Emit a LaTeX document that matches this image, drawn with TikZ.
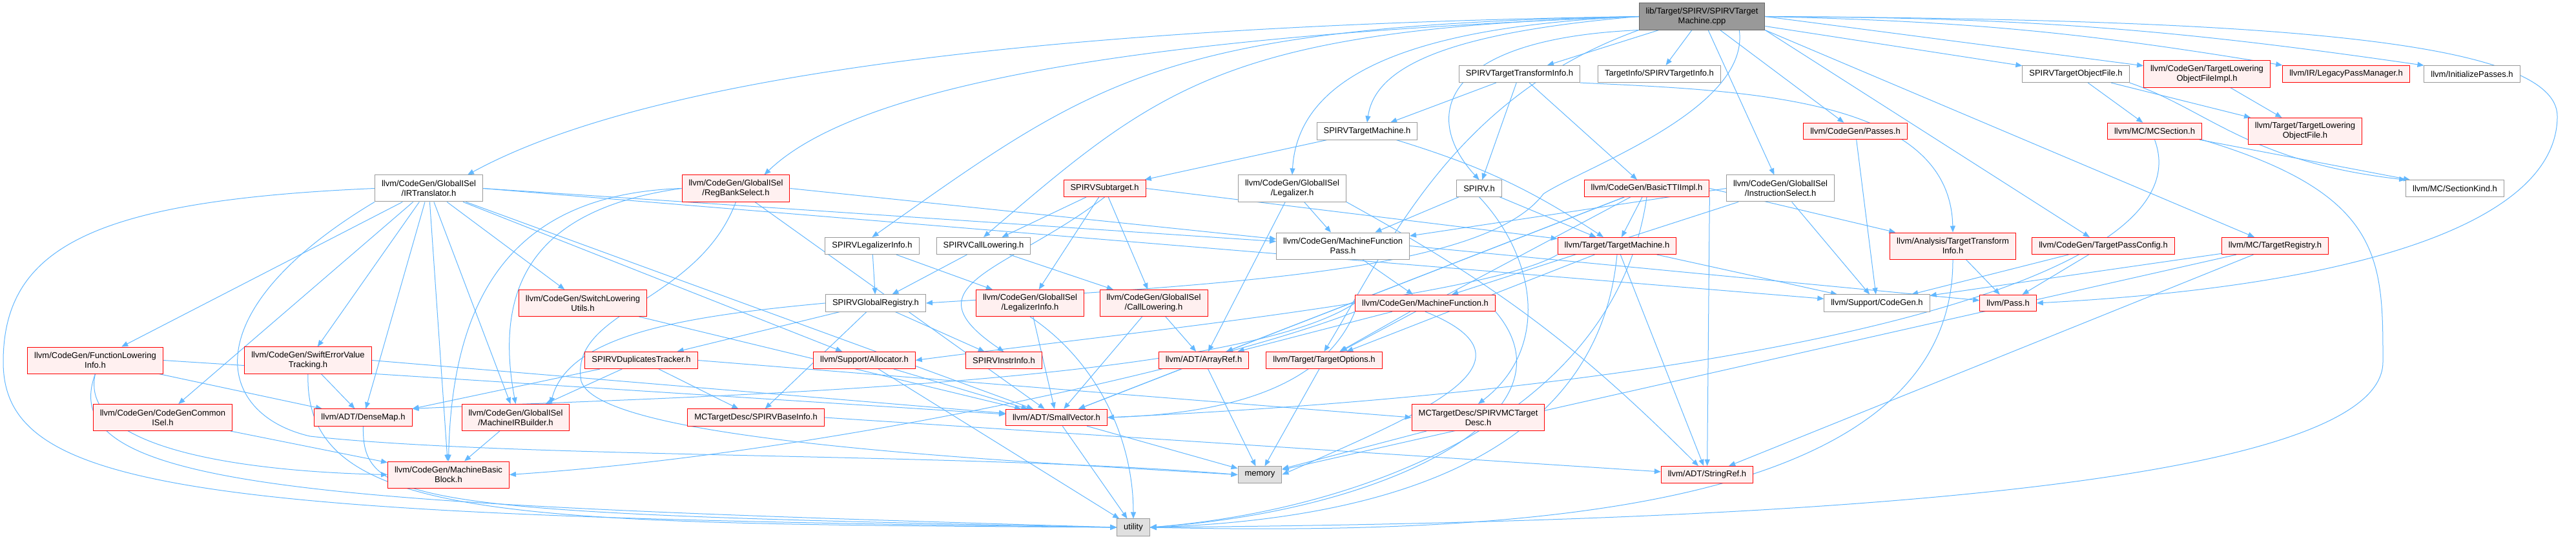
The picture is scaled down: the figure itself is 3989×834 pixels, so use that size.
\documentclass[tikz,border=0pt]{standalone}
\usepackage{fontspec}
\setmainfont{Liberation Sans}
\usepackage{tikz}
\usetikzlibrary{positioning,arrows.meta,backgrounds}
\definecolor{edgeblue}{HTML}{63B8FF}
\definecolor{redbg}{HTML}{FFF0F0}
\definecolor{rootbg}{HTML}{999999}
\definecolor{rootline}{HTML}{666666}
\definecolor{sysbg}{HTML}{E0E0E0}
\definecolor{greyline}{HTML}{999999}

\tikzset{
  hdr/.style={draw=greyline, fill=white, line width=1pt, inner xsep=10.5pt, inner ysep=7pt,
    minimum height=25.5pt, align=center, font=\fontsize{13}{15}\selectfont},
  hdrred/.style={hdr, draw=red, fill=redbg},
  hdrsys/.style={hdr, fill=sysbg},
  hdrroot/.style={hdr, draw=rootline, fill=rootbg},
  dbl/.style={minimum height=41pt},
  incl/.style={draw=edgeblue, line width=1pt, -{Triangle[length=10pt,width=8pt]}}
}

\begin{document}
\begin{tikzpicture}[x=1pt, y=1pt]
  \useasboundingbox (0,0) rectangle (3989,-834);

  % source file
  \node[hdrroot,dbl] (root) at (2635.5,-25.5) {lib/Target/SPIRV/SPIRVTarget\\Machine.cpp};

  % row 1
  \node[hdr] (stti) at (2353,-114.5) {SPIRVTargetTransformInfo.h};
  \node[hdr] (tinfo) at (2569.5,-114.5) {TargetInfo/SPIRVTargetInfo.h};
  \node[hdr] (stof) at (3214.5,-114.5) {SPIRVTargetObjectFile.h};
  \node[hdrred,dbl] (tlofimpl) at (3417.5,-114.5) {llvm/CodeGen/TargetLowering\\ObjectFileImpl.h};
  \node[hdrred] (lpm) at (3633,-114.5) {llvm/IR/LegacyPassManager.h};
  \node[hdr] (initp) at (3828,-114.5) {llvm/InitializePasses.h};

  % row 2
  \node[hdr] (stm) at (2117,-203) {SPIRVTargetMachine.h};
  \node[hdrred] (passes) at (2873,-203) {llvm/CodeGen/Passes.h};
  \node[hdrred] (mcsec) at (3336.5,-203) {llvm/MC/MCSection.h};
  \node[hdrred,dbl] (tlof) at (3569.5,-203) {llvm/Target/TargetLowering\\ObjectFile.h};

  % row 3
  \node[hdr,dbl] (irt) at (664,-291.5) {llvm/CodeGen/GlobalISel\\/IRTranslator.h};
  \node[hdrred,dbl] (rbs) at (1139.5,-291.5) {llvm/CodeGen/GlobalISel\\/RegBankSelect.h};
  \node[hdrred] (subt) at (1710.5,-291.5) {SPIRVSubtarget.h};
  \node[hdr,dbl] (lgz) at (2001,-291.5) {llvm/CodeGen/GlobalISel\\/Legalizer.h};
  \node[hdr] (spirv) at (2290.5,-291.5) {SPIRV.h};
  \node[hdrred] (bttii) at (2550,-291.5) {llvm/CodeGen/BasicTTIImpl.h};
  \node[hdr,dbl] (isel) at (2757,-291.5) {llvm/CodeGen/GlobalISel\\/InstructionSelect.h};
  \node[hdr] (sk) at (3801.5,-291.5) {llvm/MC/SectionKind.h};

  % row 4
  \node[hdr] (sli) at (1350.5,-380.5) {SPIRVLegalizerInfo.h};
  \node[hdr] (scl) at (1523,-380.5) {SPIRVCallLowering.h};
  \node[hdr,dbl] (mfp) at (2079.5,-380.5) {llvm/CodeGen/MachineFunction\\Pass.h};
  \node[hdrred] (tm) at (2504,-380.5) {llvm/Target/TargetMachine.h};
  \node[hdrred,dbl] (atti) at (3024,-380.5) {llvm/Analysis/TargetTransform\\Info.h};
  \node[hdrred] (tpc) at (3257,-380.5) {llvm/CodeGen/TargetPassConfig.h};
  \node[hdrred] (treg) at (3523,-380.5) {llvm/MC/TargetRegistry.h};

  % row 5
  \node[hdrred,dbl] (slu) at (902.5,-469) {llvm/CodeGen/SwitchLowering\\Utils.h};
  \node[hdr] (sgr) at (1356,-469) {SPIRVGlobalRegistry.h};
  \node[hdrred,dbl] (gli) at (1595,-469) {llvm/CodeGen/GlobalISel\\/LegalizerInfo.h};
  \node[hdrred,dbl] (gcl) at (1786.5,-469) {llvm/CodeGen/GlobalISel\\/CallLowering.h};
  \node[hdrred] (mf) at (2207,-469) {llvm/CodeGen/MachineFunction.h};
  \node[hdr] (scg) at (2906.5,-469) {llvm/Support/CodeGen.h};
  \node[hdrred] (pass) at (3109.5,-469) {llvm/Pass.h};

  % row 6
  \node[hdrred,dbl] (fli) at (147.5,-557.5) {llvm/CodeGen/FunctionLowering\\Info.h};
  \node[hdrred,dbl] (swe) at (477,-557.5) {llvm/CodeGen/SwiftErrorValue\\Tracking.h};
  \node[hdrred] (sdt) at (993,-557.5) {SPIRVDuplicatesTracker.h};
  \node[hdrred] (alloc) at (1338.5,-557.5) {llvm/Support/Allocator.h};
  \node[hdrred] (sii) at (1554.5,-557.5) {SPIRVInstrInfo.h};
  \node[hdrred] (aref) at (1864,-557.5) {llvm/ADT/ArrayRef.h};
  \node[hdrred] (topt) at (2050.5,-557.5) {llvm/Target/TargetOptions.h};

  % row 7
  \node[hdrred,dbl] (ccis) at (252,-646) {llvm/CodeGen/CodeGenCommon\\ISel.h};
  \node[hdrred] (dmap) at (562.5,-646) {llvm/ADT/DenseMap.h};
  \node[hdrred,dbl] (mirb) at (798.5,-646) {llvm/CodeGen/GlobalISel\\/MachineIRBuilder.h};
  \node[hdrred] (sbi) at (1170.5,-646) {MCTargetDesc/SPIRVBaseInfo.h};
  \node[hdrred] (svec) at (1636,-646) {llvm/ADT/SmallVector.h};
  \node[hdrred,dbl] (smcd) at (2289,-646) {MCTargetDesc/SPIRVMCTarget\\Desc.h};

  % row 8 and 9
  \node[hdrred,dbl] (mbb) at (694.5,-734.5) {llvm/CodeGen/MachineBasic\\Block.h};
  \node[hdrsys] (mem) at (1951,-734.5) {memory};
  \node[hdrred] (sref) at (2643.5,-734.5) {llvm/ADT/StringRef.h};
  \node[hdrsys] (util) at (1755,-816) {utility};

  \begin{scope}[on background layer]
  \fill[white] (0,0) rectangle (3989,-834);

  % includes of the source file
  \draw[incl] (root.west) .. controls (1600,-40) and (1000,-120) .. ([xshift=-24pt]irt.north east);
  \draw[incl] (root.west) .. controls (1900,-50) and (1350,-110) .. ([xshift=-40pt]rbs.north east);
  \draw[incl] (root.west) .. controls (1800,-40) and (1700,-120) .. (sli.north);
  \draw[incl] (root.west) .. controls (1900,-45) and (1800,-130) .. (scl.north);
  \draw[incl] (root.west) .. controls (2200,-40) and (2010,-110) .. (lgz.north);
  \draw[incl] (root.west) .. controls (2250,-50) and (2130,-100) .. (stm.north);
  \draw[incl] (root.south west) .. controls (2230,-60) and (2200,-180) .. (spirv.north);
  \draw[incl] (root.south west) .. controls (2250,-150) and (2150,-380) .. (topt.north);
  \draw[incl] (root) -- (stti);
  \draw[incl] (root) -- (tinfo);
  \draw[incl] (root) -- (isel);
  \draw[incl] (root) -- (passes);
  \draw[incl] (root) -- (stof);
  \draw[incl] (root.east) -- (tlofimpl);
  \draw[incl] (root.east) to[bend left=4] (lpm.north west);
  \draw[incl] (root.east) to[bend left=4] (initp.north west);
  \draw[incl] (root.south east) -- (tpc);
  \draw[incl] (root.south east) -- (treg);
  \draw[incl] ([xshift=-40pt]root.south east) .. controls (2710,-170) and (2450,-260) .. (2390,-300)
    .. controls (2300,-420) and (1900,-440) .. (sgr.east);
  \draw[incl] (root.east) .. controls (3500,-30) and (3960,-60) .. (3960,-180)
    .. controls (3960,-330) and (3700,-440) .. (pass.east);

  % SPIRV headers
  \draw[incl] (stti) -- (stm);
  \draw[incl] (stti) -- (spirv);
  \draw[incl] (stti) -- (bttii);
  \draw[incl] (stti.south east) .. controls (2700,-140) and (3020,-150) .. (atti.north);
  \draw[incl] (stm) -- (subt);
  \draw[incl] (stm) to[bend left=8] (tm);
  \draw[incl] (subt) -- (scl);
  \draw[incl] (subt.south) .. controls (1560,-420) and (1400,-440) .. (sii.north);
  \draw[incl] (subt) -- (gli);
  \draw[incl] (subt) -- (gcl);
  \draw[incl] (subt.east) -- (tm);
  \draw[incl] (spirv) -- (mfp);
  \draw[incl] (spirv) -- (tm);
  \draw[incl] (spirv.south) .. controls (2380,-400) and (2400,-540) .. (smcd.north);
  \draw[incl] (sli) -- (sgr);
  \draw[incl] (sli) -- (gli);
  \draw[incl] (scl) -- (sgr);
  \draw[incl] (scl) -- (gcl);
  \draw[incl] (sgr.west) .. controls (1050,-490) and (880,-520) .. ([xshift=-30pt]mirb.north east);
  \draw[incl] (sgr) -- (sdt);
  \draw[incl] (sgr) -- (sbi);
  \draw[incl] (sgr) -- (sii);
  \draw[incl] (sdt) -- (sbi);
  \draw[incl] (sdt) -- (mirb);
  \draw[incl] (sdt) -- (dmap.north east);
  \draw[incl] (sdt.east) -- (smcd.west);
  \draw[incl] (sbi.east) -- (sref);
  \draw[incl] (smcd) -- (mem);

  % GlobalISel and CodeGen headers
  \draw[incl] (irt) -- (fli);
  \draw[incl] (irt) -- (ccis);
  \draw[incl] (irt) -- (swe);
  \draw[incl] (irt) -- (dmap);
  \draw[incl] (irt) -- (mbb);
  \draw[incl] (irt) -- (mirb);
  \draw[incl] (irt) -- (slu);
  \draw[incl] (irt) -- (alloc);
  \draw[incl] (irt) -- (svec);
  \draw[incl] (irt.east) -- (mfp);
  \draw[incl] (irt.east) -- (scg);
  \draw[incl] (irt.south west) .. controls (300,-480) and (330,-640) .. (480,-675)
    .. controls (800,-710) and (1500,-700) .. (mem.west);
  \draw[incl] (irt.west) .. controls (150,-310) and (5,-380) .. (5,-560)
    .. controls (5,-760) and (300,-800) .. (util.west);
  \draw[incl] (rbs.west) .. controls (850,-320) and (760,-420) .. (mirb.north);
  \draw[incl] (rbs.west) .. controls (800,-300) and (700,-450) .. (mbb.north);
  \draw[incl] (rbs.east) -- (mfp);
  \draw[incl] (rbs) -- (svec);
  \draw[incl] (rbs.south) .. controls (1080,-470) and (880,-480) .. (900,-590)
    .. controls (930,-680) and (1500,-710) .. (mem.west);
  \draw[incl] (lgz) -- (mfp);
  \draw[incl] (lgz) -- (aref);
  \draw[incl] (lgz.south east) to[bend left=8] (sref);
  \draw[incl] (isel.west) -- (mfp);
  \draw[incl] (isel) -- (mf);
  \draw[incl] (isel) -- (scg);
  \draw[incl] (bttii) -- (tm);
  \draw[incl] (bttii.east) -- (atti);
  \draw[incl] (bttii) -- (aref);
  \draw[incl] (bttii) -- (svec);
  \draw[incl] (bttii) -- (topt);
  \draw[incl] (bttii.south east) -- (sref);
  \draw[incl] (bttii.south) .. controls (2500,-650) and (2100,-790) .. (util.east);
  \draw[incl] (mfp) -- (mf);
  \draw[incl] (mfp.east) -- (pass);
  \draw[incl] (mf) -- (aref);
  \draw[incl] (mf) -- (topt);
  \draw[incl] (mf.west) .. controls (1900,-600) and (1000,-615) .. (dmap.north east);
  \draw[incl] (mf.south west) .. controls (2050,-600) and (1900,-640) .. (svec.east);
  \draw[incl] (mf.south west) .. controls (1900,-560) and (1300,-700) .. (mbb.east);
  \draw[incl] (mf.south) .. controls (2400,-560) and (2200,-640) .. (mem.east);
  \draw[incl] (mf.south east) .. controls (2450,-640) and (2150,-790) .. (util.east);
  \draw[incl] (tm) -- (sref);
  \draw[incl] (tm.south west) .. controls (2300,-460) and (1700,-520) .. (alloc.east);
  \draw[incl] (tm) -- (scg);
  \draw[incl] (tm) -- (topt);
  \draw[incl] (tm.south) .. controls (2480,-650) and (2250,-800) .. (util.east);
  \draw[incl] (atti) -- (pass);
  \draw[incl] (atti.south) .. controls (3025,-780) and (2400,-830) .. (util.east);
  \draw[incl] (tpc) -- (pass);
  \draw[incl] (tpc) -- (scg);
  \draw[incl] (treg) -- (scg);
  \draw[incl] (treg) -- (sref);
  \draw[incl] (treg) -- (mem);
  \draw[incl] (passes) -- (scg);

  % object file and MC headers
  \draw[incl] (stof) -- (mcsec);
  \draw[incl] (stof) -- (tlof);
  \draw[incl] (stof.south east) .. controls (3420,-170) and (3480,-250) .. (sk.north west);
  \draw[incl] (tlofimpl) -- (tlof);
  \draw[incl] (mcsec) -- (sk);
  \draw[incl] (mcsec.south) .. controls (3420,-440) and (2700,-600) .. (svec.east);
  \draw[incl] (mcsec.south east) .. controls (3690,-300) and (3690,-400) .. (3690,-560)
    .. controls (3690,-780) and (2500,-810) .. (util.east);

  % lower level headers
  \draw[incl] (slu) -- (svec);
  \draw[incl] (fli.east) -- (svec);
  \draw[incl] (fli) -- (dmap);
  \draw[incl] (fli.south) .. controls (120,-700) and (400,-730) .. (mbb.west);
  \draw[incl] (fli.south) .. controls (80,-760) and (500,-780) .. (util.west);
  \draw[incl] (swe) -- (dmap);
  \draw[incl] (swe.east) -- (svec);
  \draw[incl] (swe.south) .. controls (470,-810) and (800,-810) .. (util.west);
  \draw[incl] (ccis) -- (mbb);
  \draw[incl] (dmap.south) .. controls (560,-780) and (640,-795) .. (util.west);
  \draw[incl] (mirb) -- (mbb);
  \draw[incl] (svec) -- (util);
  \draw[incl] (svec) -- (mem);
  \draw[incl] (aref) -- (svec);
  \draw[incl] (aref) -- (mem);
  \draw[incl] (alloc) -- (svec);
  \draw[incl] (alloc) -- (util);
  \draw[incl] (topt) -- (mem);
  \draw[incl] (gli) -- (svec);
  \draw[incl] (gli.south) .. controls (1700,-560) and (1755,-680) .. (util.north);
  \draw[incl] (gcl) -- (svec);
  \draw[incl] (gcl) -- (aref);
  \end{scope}
\end{tikzpicture}
\end{document}
